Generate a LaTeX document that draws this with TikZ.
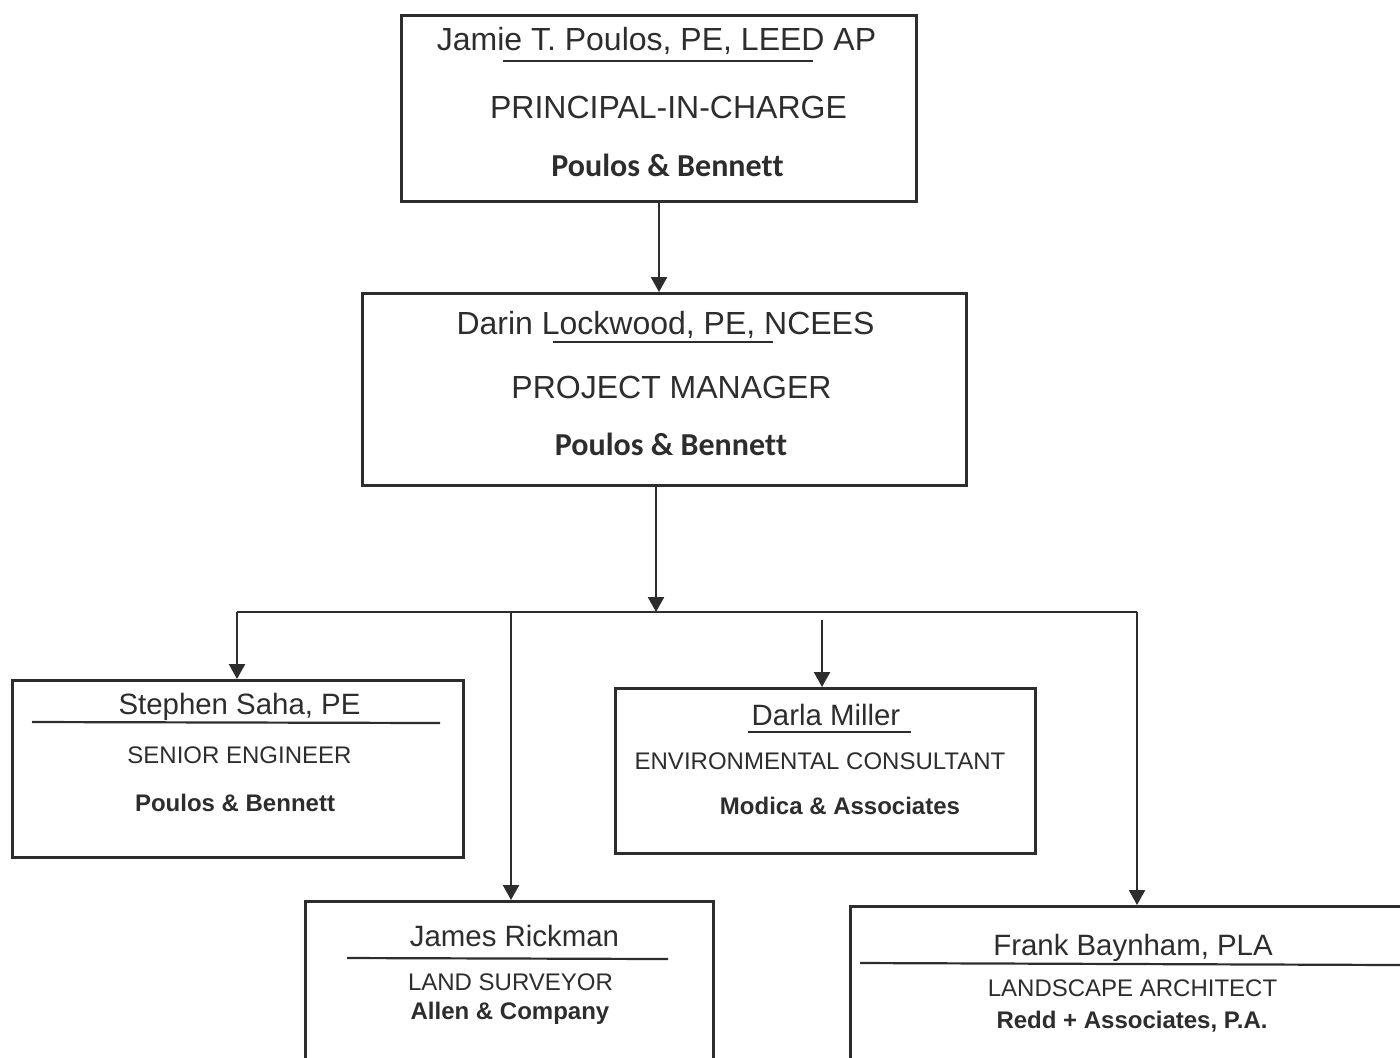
\documentclass[tikz,border=0pt]{standalone}
\usepackage{fontspec}
\setmainfont{Liberation Sans}
\newfontfamily\calibri[Ligatures={NoCommon,NoContextual}]{Carlito}
\usetikzlibrary{arrows.meta}
\definecolor{ink}{RGB}{45,45,45}
\newcommand{\bnt}{Bennet\kern0pt t}
\tikzset{
  box/.style={draw=ink, line width=1.25pt, rectangle, inner sep=0pt, anchor=north west},
  txt/.style={anchor=base, inner sep=0pt, text=ink},
  big/.style={txt, font=\fontsize{16}{18}\selectfont},
  mid/.style={txt, font=\fontsize{14.7}{17}\selectfont},
  sml/.style={txt, font=\fontsize{12}{14}\selectfont},
  smlb/.style={txt, font=\fontsize{12}{14}\selectfont\bfseries},
  calb/.style={txt, font=\fontsize{16}{18}\selectfont\calibri\bfseries},
  rule/.style={draw=ink, line width=1.1pt},
  conn/.style={draw=ink, line width=1.2pt},
  arr/.style={conn, -{Triangle[width=8pt,length=7.5pt]}}
}
\begin{document}
\begin{tikzpicture}[x=0.5pt,y=-0.5pt]
\useasboundingbox (0,0) rectangle (1400,1057);
\clip (0,0) rectangle (1400,1057);
% boxes
\node[box, minimum width=257.5pt, minimum height=93pt] (b1) at (400,14) {};
\node[box, minimum width=302pt, minimum height=96pt] (b2) at (361,292) {};
\node[box, minimum width=225.5pt, minimum height=88.5pt] (b3) at (11,679) {};
\node[box, minimum width=210pt, minimum height=82.5pt] (b4) at (614,687) {};
\node[box, minimum width=204pt, minimum height=90pt] (b5) at (304,900) {};
\node[box, minimum width=300pt, minimum height=90pt] (b6) at (849,905) {};
% box 1 text
\node[big] (n1) at (656.5,50) {Jamie T. Poulos, PE, LEED AP};
\node[big] (t1) at (668.5,118) {PRINCIPAL-IN-CHARGE};
\node[calb] (c1) at (667.5,176) {Poulos \& \bnt};
\draw[rule] (503,61) -- (813,61);
% box 2 text
\node[big] (n2) at (665.5,334) {Darin Lockwood, PE, NCEES};
\node[big] (t2) at (671.5,398) {PROJECT MANAGER};
\node[calb] (c2) at (671,455) {Poulos \& \bnt};
\draw[rule] (553,342) -- (773,342);
% box 3
\node[mid] (n3) at (239.5,714) {Stephen Saha, PE};
\node[sml] (t3) at (239.5,763) {SENIOR ENGINEER};
\node[smlb] (c3) at (235,811) {Poulos \& Bennett};
\draw[rule] (32,722) -- (440,723);
% box 4
\node[mid] (n4) at (826,725) {Darla Miller};
\node[sml] (t4) at (820,769) {ENVIRONMENTAL CONSULTANT};
\node[smlb] (c4) at (840,814) {Modica \& Associates};
\draw[rule] (748,732) -- (911,732);
% box 5
\node[mid] (n5) at (514.5,946) {James Rickman};
\node[sml] (t5) at (510.5,990) {LAND SURVEYOR};
\node[smlb] (c5) at (510,1019) {Allen \& Company};
\draw[rule] (347,958) -- (668,959);
% box 6
\node[mid] (n6) at (1133,955) {Frank Baynham, PLA};
\node[sml] (t6) at (1132.5,996) {LANDSCAPE ARCHITECT};
\node[smlb] (c6) at (1132,1028) {Redd + Associates, P.A.};
\draw[rule] (860,963) -- (1400,965);
% connectors
\coordinate (j) at (656,612);
\coordinate (jl) at (237,612);
\coordinate (jm) at (511,612);
\coordinate (jr) at (1137,612);
\coordinate (jd) at (822,620);
\draw[arr] (b1.south -| 659,0) -- (b2.north -| 659,0);
\draw[arr] (b2.south -| j) -- (j);
\draw[conn] (jl) -- (jr);
\draw[arr] (jl) -- (b3.north -| jl);
\draw[arr] (jm) -- (b5.north -| jm);
\draw[arr] (jd) -- (b4.north -| jd);
\draw[arr] (jr) -- (b6.north -| jr);
\end{tikzpicture}
\end{document}
